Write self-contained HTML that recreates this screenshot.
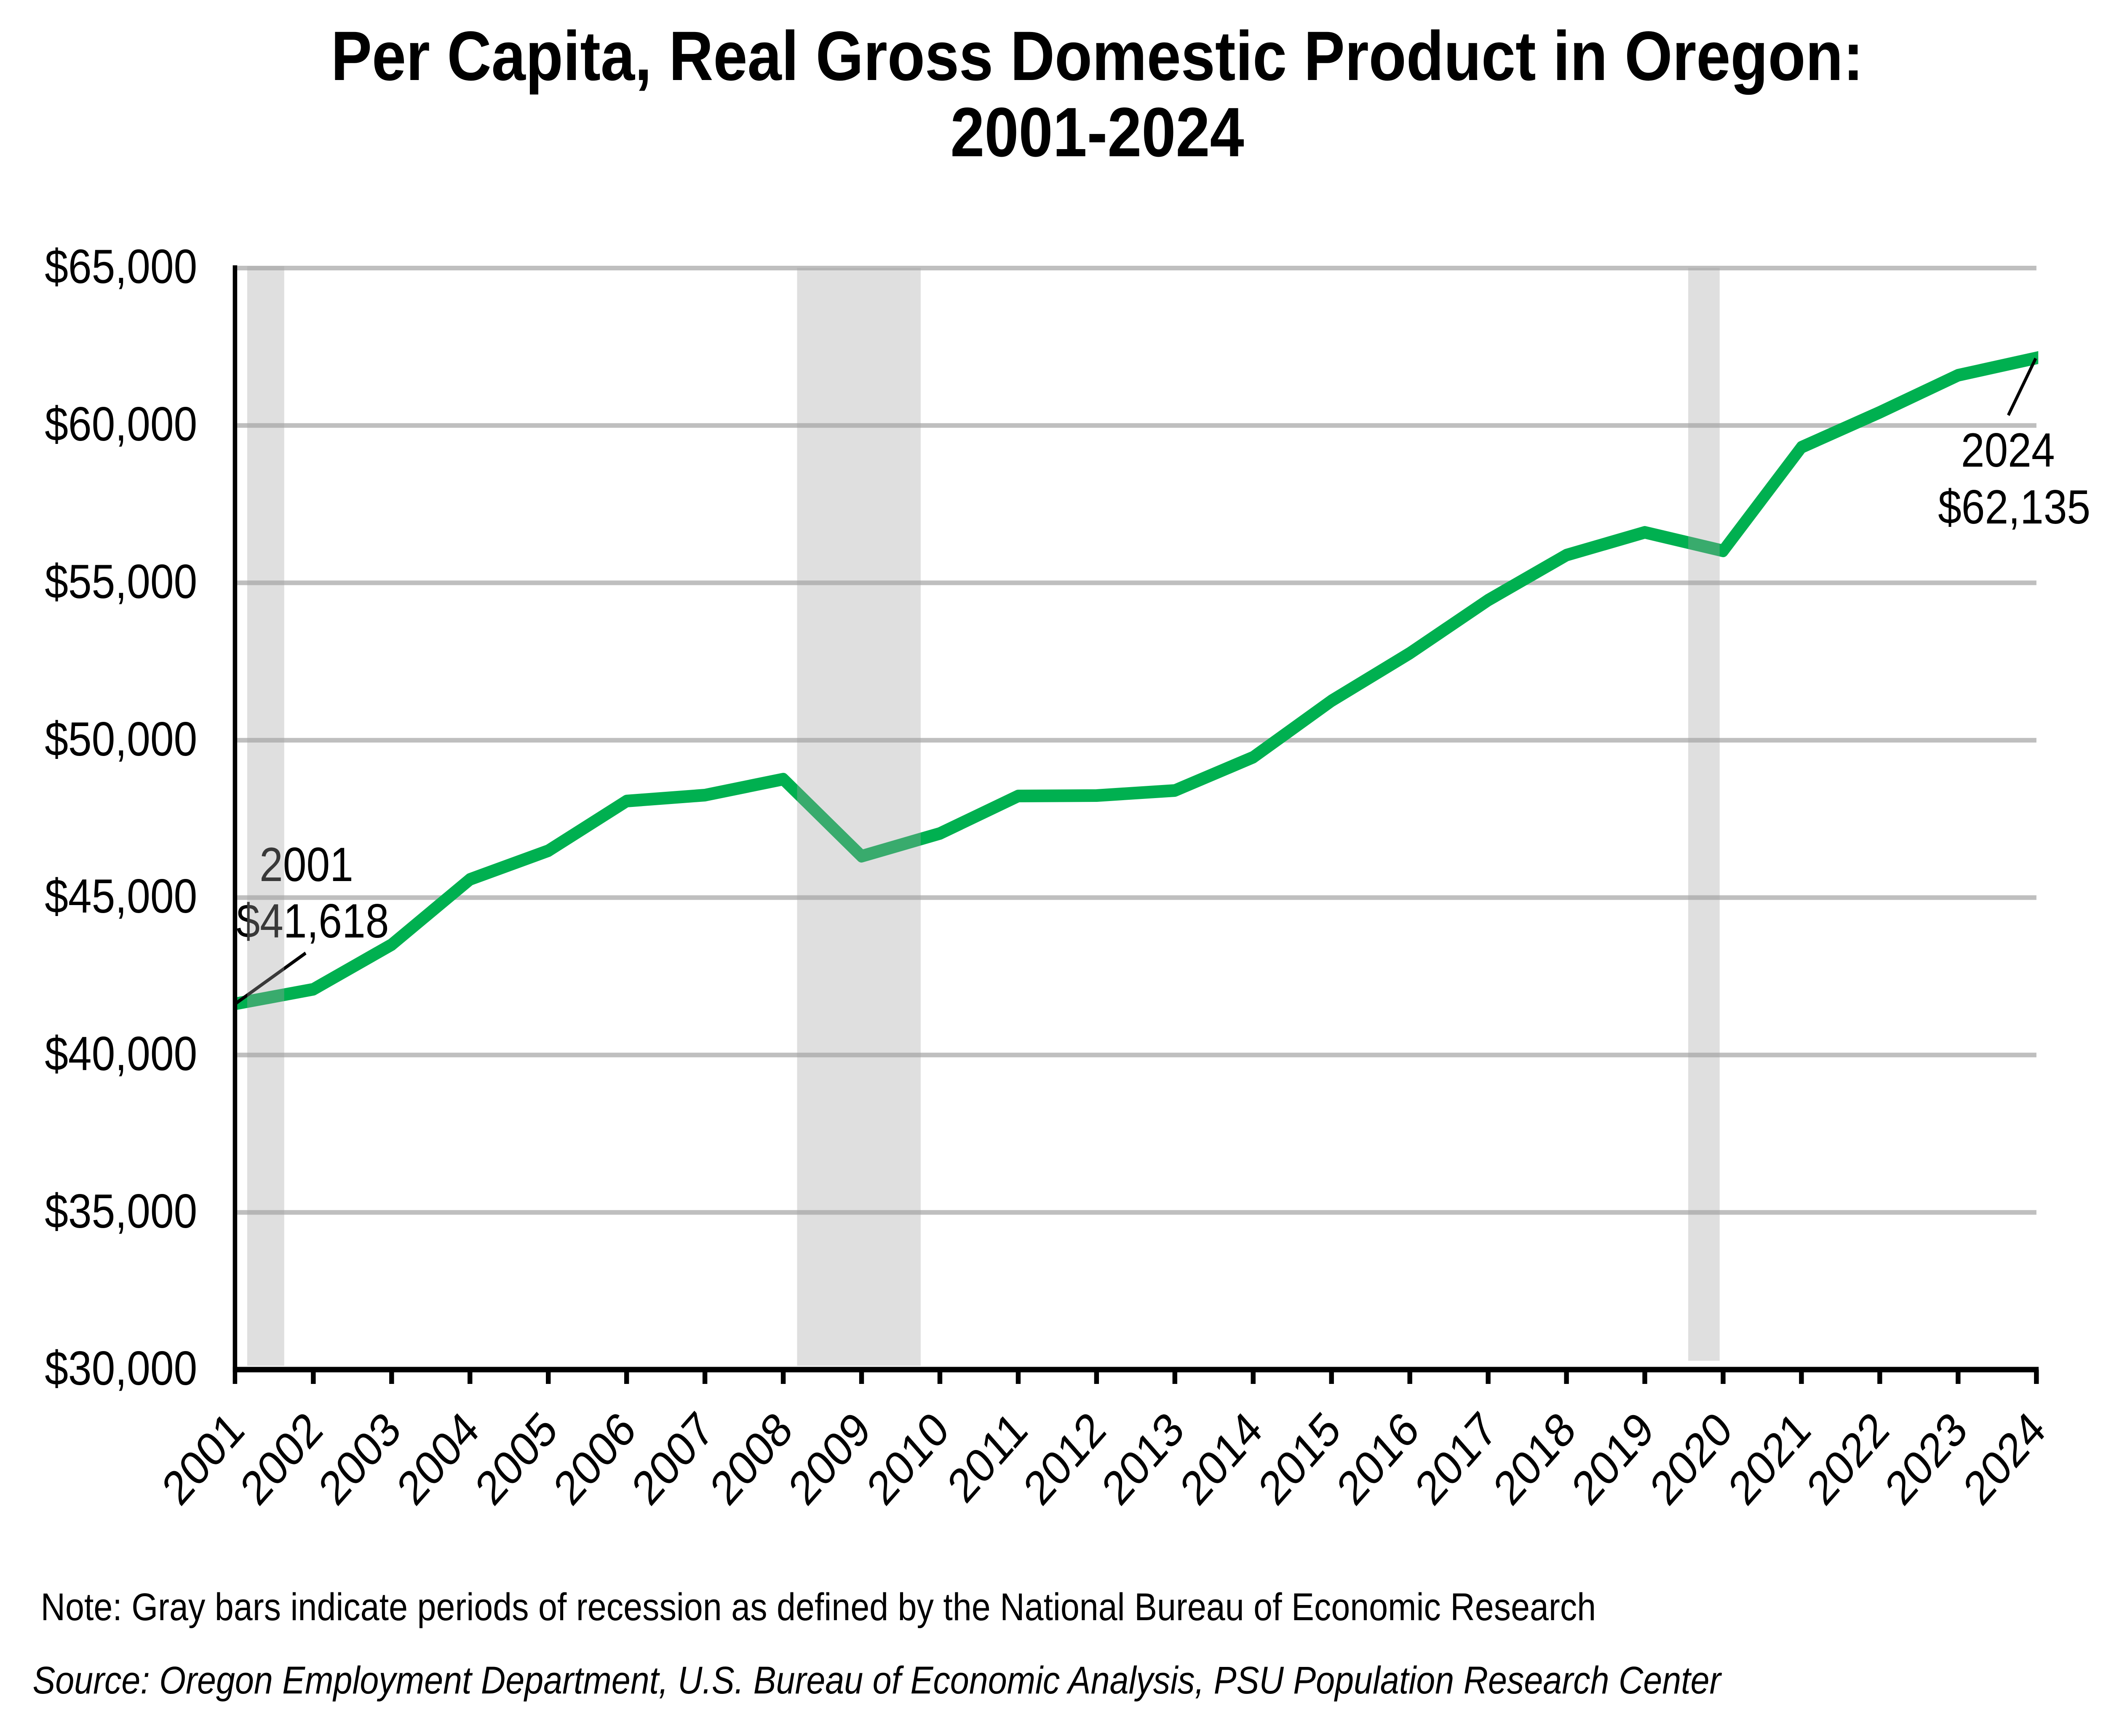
<!DOCTYPE html>
<html>
<head>
<meta charset="utf-8">
<style>
  html, body { margin: 0; padding: 0; background: #ffffff; width: 100%; height: 100%; overflow: hidden; }
  svg { display: block; width: 100vw; height: 100vh; }
  text { font-family: "Liberation Sans", Arial, sans-serif; fill: #000; }
</style>
</head>
<body>
<svg viewBox="0 0 5691 4122" preserveAspectRatio="none" xmlns="http://www.w3.org/2000/svg">
  <rect x="0" y="0" width="5691" height="4122" fill="#ffffff"/>

  <!-- Title -->
  <text x="2965" y="190" font-size="166" font-weight="bold" text-anchor="middle">Per Capita, Real Gross Domestic Product in Oregon:</text>
  <text x="2965" y="371" font-size="166" font-weight="bold" text-anchor="middle">2001-2024</text>

  <!-- Gridlines -->
  <g stroke="#BFBFBF" stroke-width="11">
    <line x1="641" y1="636.5" x2="5503" y2="636.5"/>
    <line x1="641" y1="1010.2" x2="5503" y2="1010.2"/>
    <line x1="641" y1="1383.9" x2="5503" y2="1383.9"/>
    <line x1="641" y1="1757.6" x2="5503" y2="1757.6"/>
    <line x1="641" y1="2131.3" x2="5503" y2="2131.3"/>
    <line x1="641" y1="2505" x2="5503" y2="2505"/>
    <line x1="641" y1="2878.7" x2="5503" y2="2878.7"/>
  </g>

  <!-- Y-axis labels -->
  <g font-size="114" text-anchor="end">
    <text x="533" y="672">$65,000</text>
    <text x="533" y="1046">$60,000</text>
    <text x="533" y="1420">$55,000</text>
    <text x="533" y="1794">$50,000</text>
    <text x="533" y="2167">$45,000</text>
    <text x="533" y="2541">$40,000</text>
    <text x="533" y="2915">$35,000</text>
    <text x="533" y="3288">$30,000</text>
  </g>

  <!-- Data line -->
  <defs>
    <clipPath id="plotclip">
      <rect x="635" y="500" width="4873" height="2800"/>
    </clipPath>
  </defs>
  <polyline clip-path="url(#plotclip)" fill="none" stroke="#00B050" stroke-width="30" stroke-linejoin="round" stroke-linecap="butt"
    points="620,2386 635,2383.6 846.65,2349 1058.3,2243 1269.95,2088 1481.6,2020 1693.25,1902 1904.9,1888 2116.55,1850 2328.2,2033 2539.85,1979 2751.5,1890 2963.15,1889 3174.8,1877 3386.45,1798 3598.1,1664 3809.75,1551 4021.4,1425 4233.05,1318 4444.7,1264 4656.35,1308 4868,1062 5079.65,979 5291.3,891 5502.95,850 5520,846.7"/>

  <!-- Annotations -->
  <line x1="638" y1="2382" x2="826" y2="2263" stroke="#000" stroke-width="8"/>
  <text x="828" y="2092" font-size="114" text-anchor="middle">2001</text>
  <text x="845" y="2226" font-size="114" text-anchor="middle">$41,618</text>

  <line x1="5501" y1="851" x2="5427" y2="986" stroke="#000" stroke-width="8"/>
  <text x="5426" y="1108" font-size="114" text-anchor="middle">2024</text>
  <text x="5443" y="1243" font-size="114" text-anchor="middle">$62,135</text>

  <!-- Recession bars (semi-transparent, on top) -->
  <g fill="rgb(164,164,164)" fill-opacity="0.35">
    <rect x="668" y="632" width="100" height="2611"/>
    <rect x="2154" y="636" width="334" height="2607"/>
    <rect x="4562" y="636" width="85" height="2595"/>
  </g>

  <!-- Axes -->
  <line x1="635" y1="630" x2="635" y2="3286" stroke="#000" stroke-width="12"/>
  <line x1="629" y1="3252" x2="5509" y2="3252" stroke="#000" stroke-width="13"/>
  <g stroke="#000" stroke-width="13">
    <line x1="846.65" y1="3252" x2="846.65" y2="3286"/>
    <line x1="1058.3" y1="3252" x2="1058.3" y2="3286"/>
    <line x1="1269.95" y1="3252" x2="1269.95" y2="3286"/>
    <line x1="1481.6" y1="3252" x2="1481.6" y2="3286"/>
    <line x1="1693.25" y1="3252" x2="1693.25" y2="3286"/>
    <line x1="1904.9" y1="3252" x2="1904.9" y2="3286"/>
    <line x1="2116.55" y1="3252" x2="2116.55" y2="3286"/>
    <line x1="2328.2" y1="3252" x2="2328.2" y2="3286"/>
    <line x1="2539.85" y1="3252" x2="2539.85" y2="3286"/>
    <line x1="2751.5" y1="3252" x2="2751.5" y2="3286"/>
    <line x1="2963.15" y1="3252" x2="2963.15" y2="3286"/>
    <line x1="3174.8" y1="3252" x2="3174.8" y2="3286"/>
    <line x1="3386.45" y1="3252" x2="3386.45" y2="3286"/>
    <line x1="3598.1" y1="3252" x2="3598.1" y2="3286"/>
    <line x1="3809.75" y1="3252" x2="3809.75" y2="3286"/>
    <line x1="4021.4" y1="3252" x2="4021.4" y2="3286"/>
    <line x1="4233.05" y1="3252" x2="4233.05" y2="3286"/>
    <line x1="4444.7" y1="3252" x2="4444.7" y2="3286"/>
    <line x1="4656.35" y1="3252" x2="4656.35" y2="3286"/>
    <line x1="4868" y1="3252" x2="4868" y2="3286"/>
    <line x1="5079.65" y1="3252" x2="5079.65" y2="3286"/>
    <line x1="5291.3" y1="3252" x2="5291.3" y2="3286"/>
    <line x1="5502.95" y1="3252" x2="5502.95" y2="3286"/>
  </g>

  <!-- X-axis labels (rotated -45) -->
  <g font-size="114" text-anchor="end">
    <text transform="translate(666,3401) rotate(-45)">2001</text>
    <text transform="translate(877.65,3401) rotate(-45)">2002</text>
    <text transform="translate(1089.3,3401) rotate(-45)">2003</text>
    <text transform="translate(1300.95,3401) rotate(-45)">2004</text>
    <text transform="translate(1512.6,3401) rotate(-45)">2005</text>
    <text transform="translate(1724.25,3401) rotate(-45)">2006</text>
    <text transform="translate(1935.9,3401) rotate(-45)">2007</text>
    <text transform="translate(2147.55,3401) rotate(-45)">2008</text>
    <text transform="translate(2359.2,3401) rotate(-45)">2009</text>
    <text transform="translate(2570.85,3401) rotate(-45)">2010</text>
    <text transform="translate(2782.5,3401) rotate(-45)">2011</text>
    <text transform="translate(2994.15,3401) rotate(-45)">2012</text>
    <text transform="translate(3205.8,3401) rotate(-45)">2013</text>
    <text transform="translate(3417.45,3401) rotate(-45)">2014</text>
    <text transform="translate(3629.1,3401) rotate(-45)">2015</text>
    <text transform="translate(3840.75,3401) rotate(-45)">2016</text>
    <text transform="translate(4052.4,3401) rotate(-45)">2017</text>
    <text transform="translate(4264.05,3401) rotate(-45)">2018</text>
    <text transform="translate(4475.7,3401) rotate(-45)">2019</text>
    <text transform="translate(4687.35,3401) rotate(-45)">2020</text>
    <text transform="translate(4899,3401) rotate(-45)">2021</text>
    <text transform="translate(5110.65,3401) rotate(-45)">2022</text>
    <text transform="translate(5322.3,3401) rotate(-45)">2023</text>
    <text transform="translate(5533.95,3401) rotate(-45)">2024</text>
  </g>

  <!-- Notes -->
  <text x="110" y="3847" font-size="92">Note: Gray bars indicate periods of recession as defined by the National Bureau of Economic Research</text>
  <text x="88" y="4021" font-size="92" font-style="italic">Source: Oregon Employment Department, U.S. Bureau of Economic Analysis, PSU Population Research Center</text>
</svg>
</body>
</html>
